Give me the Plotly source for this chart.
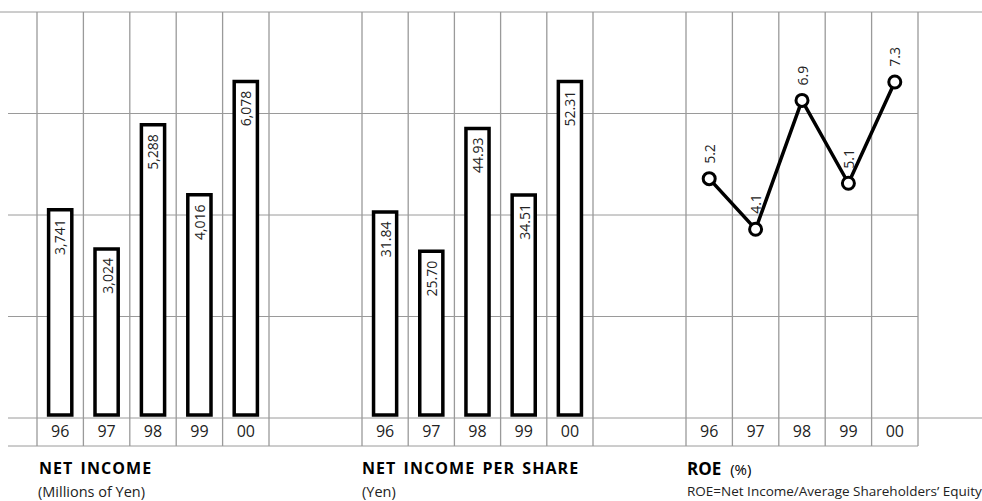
import plotly.graph_objects as go

# Fiscal years and the three financial series
years = ["96", "97", "98", "99", "00"]
net_income = [3741, 3024, 5288, 4016, 6078]          # millions of yen
income_per_share = [31.84, 25.70, 44.93, 34.51, 52.31]  # yen
roe = [5.2, 4.1, 6.9, 5.1, 7.3]                       # percent

W, H = 982, 501
FONT = "Open Sans"
GRID = "#9a9a9a"


def px(x):
    return x / W


def py(y):
    return 1 - y / H


# Panel extents in pixels (left, right); each panel holds five year columns
panels = [(37, 269), (362, 593), (686, 918)]
grid_top, grid_base, grid_bottom = 12, 418, 446
ydom = [py(grid_base), py(grid_top)]

fig = go.Figure()

# Net income bars
fig.add_trace(go.Bar(
    x=years, y=net_income, xaxis="x", yaxis="y", width=0.5,
    marker=dict(color="white", line=dict(color="black", width=3.5)),
    hoverinfo="x+y",
))
# Net income per share bars
fig.add_trace(go.Bar(
    x=years, y=income_per_share, xaxis="x2", yaxis="y2", width=0.5,
    marker=dict(color="white", line=dict(color="black", width=3.5)),
    hoverinfo="x+y",
))
# ROE line
fig.add_trace(go.Scatter(
    x=years, y=roe, xaxis="x3", yaxis="y3", mode="lines+markers",
    line=dict(color="black", width=3.5),
    marker=dict(symbol="circle", size=12, color="white",
                line=dict(color="black", width=3)),
    hoverinfo="x+y",
))

annotations = []

# Value labels inside the top of each bar, reading upward
for xa, ya, vals, fmt in [("x", "y", net_income, "{:,}"),
                          ("x2", "y2", income_per_share, "{:.2f}")]:
    for i, v in enumerate(vals):
        annotations.append(dict(
            x=i, y=v, xref=xa, yref=ya, text=fmt.format(v),
            textangle=-90, showarrow=False, xanchor="center", yanchor="top",
            yshift=-7, font=dict(family=FONT, size=14, color="#222222"),
        ))

# ROE labels above each point
for i, v in enumerate(roe):
    annotations.append(dict(
        x=i, y=v, xref="x3", yref="y3", text=f"{v:.1f}",
        textangle=-90, showarrow=False, xanchor="center", yanchor="bottom",
        yshift=13, font=dict(family=FONT, size=14, color="#222222"),
    ))

# Panel titles and notes
title_font = dict(family=FONT, size=16, color="black")
note_font = dict(family=FONT, size=14.5, color="#222222")
SPACED = "<span style='letter-spacing:1.05px;word-spacing:2px'><b>{}</b></span>"


def paper_text(x, y, text, font):
    annotations.append(dict(
        x=px(x), y=py(y), xref="paper", yref="paper", xanchor="left",
        yanchor="middle", showarrow=False, borderpad=0, text=text, font=font,
    ))


paper_text(38, 468, SPACED.format("NET INCOME"), title_font)
paper_text(37, 491, "(Millions of Yen)", note_font)
paper_text(361, 468, SPACED.format("NET INCOME PER SHARE"), title_font)
paper_text(361, 491, "(Yen)", note_font)
paper_text(686, 468,
           "<b>ROE</b>  <span style='font-size:15px'>(%)</span>",
           dict(family=FONT, size=17, color="black"))
paper_text(686, 491, "ROE=Net Income/Average Shareholders\u2019 Equity",
           dict(family=FONT, size=13.5, color="#222222"))

shapes = []


def hline(y, x0, x1):
    shapes.append(dict(type="line", xref="paper", yref="paper",
                       x0=px(x0), x1=px(x1), y0=py(y), y1=py(y),
                       line=dict(color=GRID, width=1), layer="below"))


def vline(x, y0, y1):
    shapes.append(dict(type="line", xref="paper", yref="paper",
                       x0=px(x), x1=px(x), y0=py(y0), y1=py(y1),
                       line=dict(color=GRID, width=1.3), layer="below"))


# Horizontal rules
hline(grid_top, 0, W)
for y in (113.5, 215, 316.5):
    hline(y, 8, 918)
hline(grid_base, 8, W)
hline(grid_bottom, 8, 918)

# Column dividers for each panel
for left, right in panels:
    step = (right - left) / 5
    for k in range(6):
        vline(left + k * step, grid_top, grid_bottom)

layout = dict(
    width=W, height=H, margin=dict(l=0, r=0, t=0, b=0),
    paper_bgcolor="white", plot_bgcolor="rgba(0,0,0,0)",
    showlegend=False, annotations=annotations, shapes=shapes,
    font=dict(family=FONT),
)

y_ranges = [[-55, 7345], [-0.47, 63.22], [0, 8.82]]
for i, ((left, right), yr) in enumerate(zip(panels, y_ranges), start=1):
    suffix = "" if i == 1 else str(i)
    layout[f"xaxis{suffix}"] = dict(
        domain=[px(left), px(right)], type="category", range=[-0.5, 4.5],
        anchor=f"y{suffix}", showgrid=False, zeroline=False, showline=False,
        ticks="", ticklabelstandoff=2,
        tickfont=dict(family=FONT, size=16, color="#222222"),
        fixedrange=True,
    )
    layout[f"yaxis{suffix}"] = dict(
        domain=ydom, range=yr, anchor=f"x{suffix}", showgrid=False,
        zeroline=False, showline=False, showticklabels=False, ticks="",
        fixedrange=True,
    )

fig.update_layout(**layout)
fig.write_html("out.html")
